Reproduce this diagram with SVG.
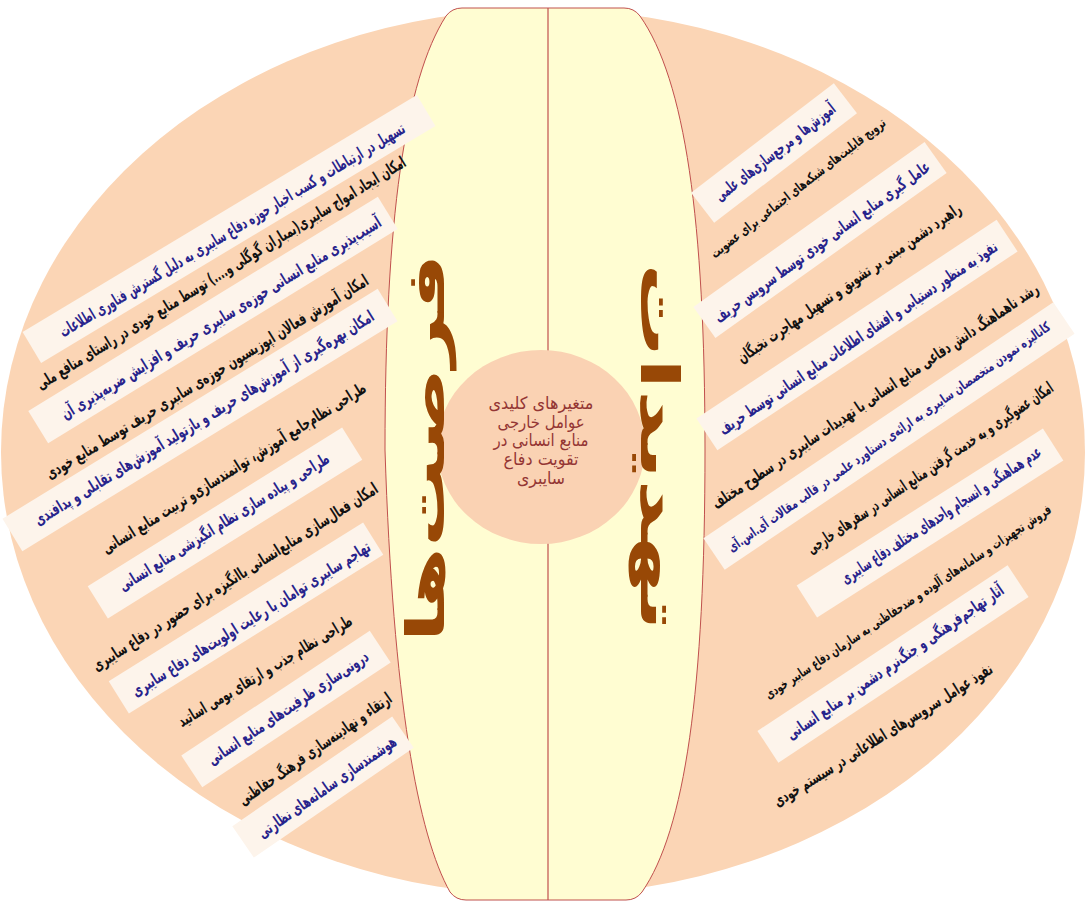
<svg xmlns="http://www.w3.org/2000/svg" width="1087" height="901" viewBox="0 0 1087 901">
<style>
.el{fill:#FBD5B5}
.band{fill:#FFFDD2;stroke:#C0504D;stroke-width:1}
.axis{stroke:#C0504D;stroke-width:1.2;fill:none}
.hub{fill:#FAD2B3}
.box{fill:#FDF4EB}
.t{font-family:"DejaVu Sans",sans-serif;font-weight:bold;font-size:16.5px;text-anchor:middle;direction:rtl}
.s{font-size:13.5px}
.b{fill:#27238C}
.k{fill:#111111}
.big{font-family:"DejaVu Sans",sans-serif;font-weight:bold;font-size:52px;fill:#984806;text-anchor:middle;direction:rtl}
.hubt{font-family:"DejaVu Sans",sans-serif;font-size:17px;fill:#943634;text-anchor:middle;direction:rtl}
</style>
<rect width="1087" height="901" fill="#FFFFFF"/>
<g id="background">
<ellipse class="el" cx="543" cy="452" rx="542" ry="443"/>
<path class="band" d="M 462,8 L 624,8 Q 634,8 640,16 C 685,80 705,220 705,450 C 705,690 685,830 642,892 Q 636,900 626,900 L 466,900 Q 456,900 450,892 C 418,835 393,700 385,450 C 385,220 405,80 446,16 Q 452,8 462,8 Z"/>
</g>
<g id="connectors">
<line class="axis" x1="548" y1="8" x2="548" y2="900"/>
</g>
<g id="hub">
<ellipse class="hub" cx="541" cy="447" rx="104" ry="97"/>
<text class="hubt" x="541" y="409" textLength="105" lengthAdjust="spacingAndGlyphs">متغیرهای کلیدی</text>
<text class="hubt" x="541" y="428" textLength="87" lengthAdjust="spacingAndGlyphs">عوامل خارجی</text>
<text class="hubt" x="541" y="446" textLength="95" lengthAdjust="spacingAndGlyphs">منابع انسانی در</text>
<text class="hubt" x="541" y="465" textLength="75" lengthAdjust="spacingAndGlyphs">تقویت دفاع</text>
<text class="hubt" x="541" y="484" textLength="48" lengthAdjust="spacingAndGlyphs">سایبری</text>
</g>
<g id="title-opportunities">
<text class="big" transform="translate(444,448) rotate(-90)" textLength="389" lengthAdjust="spacingAndGlyphs">فرصت&#x200C;ها</text>
</g>
<g id="title-threats">
<text class="big" transform="translate(641,447) rotate(90)" textLength="368" lengthAdjust="spacingAndGlyphs">تهدیدات</text>
</g>

<g id="L1"><rect class="box" x="-230" y="-18" width="460" height="36" transform="translate(229,229) rotate(-31)"/><text class="t b" transform="translate(232,230) rotate(-31)" y="5.5" textLength="400" lengthAdjust="spacingAndGlyphs">تسهیل در ارتباطات و کسب اخبار حوزه دفاع سایبری به دلیل گسترش فناوری اطلاعات</text></g>
<g id="L2"><text class="t k" transform="translate(221,273) rotate(-31.5)" y="5.5" textLength="430" lengthAdjust="spacingAndGlyphs">امکان ایجاد امواج سایبری(بمباران گوگلی و....) توسط منابع خودی در راستای منافع ملی</text></g>
<g id="L3"><rect class="box" x="-205" y="-19" width="410" height="38" transform="translate(213,320) rotate(-31.5)"/><text class="t b" transform="translate(221,318) rotate(-31.5)" y="5.5" textLength="372" lengthAdjust="spacingAndGlyphs">آسیب&#x200C;پذیری منابع انسانی حوزه&#x200C;ی سایبری حریف و افزایش ضربه&#x200C;پذیری آن</text></g>
<g id="L4"><text class="t k" transform="translate(207,377) rotate(-31.5)" y="5.5" textLength="375" lengthAdjust="spacingAndGlyphs">امکان آموزش فعالان اپوزیسیون حوزه&#x200C;ی سایبری حریف توسط منابع خودی</text></g>
<g id="L5"><rect class="box" x="-220" y="-19" width="440" height="38" transform="translate(200,420) rotate(-31.5)"/><text class="t b" transform="translate(204,418) rotate(-31.5)" y="5.5" textLength="395" lengthAdjust="spacingAndGlyphs">امکان بهره&#x200C;گیری از آموزش&#x200C;های حریف و بازتولید آموزش&#x200C;های تقابلی و پدافندی</text></g>
<g id="L6"><text class="t k" transform="translate(234,468) rotate(-32)" y="5.5" textLength="308" lengthAdjust="spacingAndGlyphs">طراحی نظام&#x200C;جامع آموزش، توانمندسازی&#x200C;و تربیت منابع انسانی</text></g>
<g id="L7"><rect class="box" x="-150" y="-19" width="300" height="38" transform="translate(225,523) rotate(-32)"/><text class="t b" transform="translate(224,522) rotate(-32)" y="5.5" textLength="245" lengthAdjust="spacingAndGlyphs">طراحی و پیاده سازی نظام انگیزشی منابع انسانی</text></g>
<g id="L8"><text class="t k" transform="translate(235,577) rotate(-32.5)" y="5.5" textLength="335" lengthAdjust="spacingAndGlyphs">امکان فعال&#x200C;سازی منابع&#x200C;انسانی باانگیزه برای حضور در دفاع سایبری</text></g>
<g id="L9"><rect class="box" x="-150" y="-19" width="300" height="38" transform="translate(246,618) rotate(-32)"/><text class="t b" transform="translate(251,619) rotate(-32)" y="5.5" textLength="278" lengthAdjust="spacingAndGlyphs">تهاجم سایبری توامان با رعایت اولویت&#x200C;های دفاع سایبری</text></g>
<g id="L10"><text class="t k" transform="translate(265,671) rotate(-31)" y="5.5" textLength="200" lengthAdjust="spacingAndGlyphs">طراحی نظام جذب و ارتقای بومی اساتید</text></g>
<g id="L11"><rect class="box" x="-113" y="-19" width="226" height="38" transform="translate(286,709) rotate(-33.5)"/><text class="t b" transform="translate(288,708) rotate(-34)" y="5.5" textLength="190" lengthAdjust="spacingAndGlyphs">درونی&#x200C;سازی ظرفیت&#x200C;های منابع انسانی</text></g>
<g id="L12"><text class="t k" transform="translate(315,749) rotate(-35)" y="5.5" textLength="183" lengthAdjust="spacingAndGlyphs">ارتقاء و نهادینه&#x200C;سازی فرهنگ حفاظتی</text></g>
<g id="L13"><rect class="box" x="-97" y="-19" width="194" height="38" transform="translate(323,787) rotate(-34.5)"/><text class="t b" transform="translate(327,787) rotate(-35)" y="5.5" textLength="165" lengthAdjust="spacingAndGlyphs">هوشمندسازی سامانه&#x200C;های نظارتی</text></g>

<g id="R1"><rect class="box" x="-90" y="-19" width="180" height="38" transform="translate(774,153) rotate(-37.5)"/><text class="t b" transform="translate(775,152) rotate(-38)" y="5.5" textLength="148" lengthAdjust="spacingAndGlyphs">آموزش&#x200C;ها و مرجع&#x200C;سازی&#x200C;های علمی</text></g>
<g id="R2"><text class="t s k" transform="translate(798,188) rotate(-38)" y="4.5" textLength="218" lengthAdjust="spacingAndGlyphs">ترویج قابلیت&#x200C;های شبکه&#x200C;های اجتماعی برای عضویت</text></g>
<g id="R3"><rect class="box" x="-142" y="-19" width="284" height="38" transform="translate(820,240) rotate(-35.5)"/><text class="t b" transform="translate(822,242) rotate(-36)" y="5.5" textLength="262" lengthAdjust="spacingAndGlyphs">عامل گیری منابع انسانی خودی توسط سرویس حریف</text></g>
<g id="R4"><text class="t k" transform="translate(849,283) rotate(-34.6)" y="5.5" textLength="268" lengthAdjust="spacingAndGlyphs">راهبرد دشمن مبنی بر تشویق و تسهیل مهاجرت نخبگان</text></g>
<g id="R5"><rect class="box" x="-180" y="-19" width="360" height="38" transform="translate(857,335) rotate(-33.5)"/><text class="t b" transform="translate(858,338) rotate(-34)" y="5.5" textLength="332" lengthAdjust="spacingAndGlyphs">نفوذ به منظور دستیابی و افشای اطلاعات منابع انسانی توسط حریف</text></g>
<g id="R6"><text class="t k" transform="translate(875,396) rotate(-34)" y="5.5" textLength="390" lengthAdjust="spacingAndGlyphs">رشد ناهماهنگ دانش دفاعی منابع انسانی با تهدیدات سایبری در سطوح مختلف</text></g>
<g id="R7"><rect class="box" x="-211" y="-19" width="422" height="38" transform="translate(889,436) rotate(-34)"/><text class="t s b" transform="translate(889,437) rotate(-35)" y="4.5" textLength="390" lengthAdjust="spacingAndGlyphs">کانالیزه نمودن متخصصان سایبری به ارائه&#x200C;ی دستاورد علمی در قالب  مقالات آی.اس.آی</text></g>
<g id="R8"><text class="t k" transform="translate(930,468) rotate(-34)" y="5.5" textLength="293" lengthAdjust="spacingAndGlyphs">امکان عضوگیری و به خدمت گرفتن منابع انسانی در سفرهای خارجی</text></g>
<g id="R9"><rect class="box" x="-146" y="-19" width="292" height="38" transform="translate(930,523) rotate(-32.5)"/><text class="t b" transform="translate(941,515) rotate(-33.3)" y="5.5" textLength="236" lengthAdjust="spacingAndGlyphs">عدم هماهنگی و انسجام واحدهای مختلف دفاع سایبری</text></g>
<g id="R10"><text class="t s k" transform="translate(908,602) rotate(-33.5)" y="4.5" textLength="340" lengthAdjust="spacingAndGlyphs">فروش تجهیزات و سامانه&#x200C;های آلوده و ضدحفاظتی به سازمان دفاع سایبر خودی</text></g>
<g id="R11"><rect class="box" x="-150" y="-19" width="300" height="38" transform="translate(893,664) rotate(-33.5)"/><text class="t b" transform="translate(895,662) rotate(-34.6)" y="5.5" textLength="260" lengthAdjust="spacingAndGlyphs">آثار تهاجم&#x200C;فرهنگی و جنگ&#x200C;نرم دشمن بر منابع انسانی</text></g>
<g id="R12"><text class="t k" transform="translate(883,735) rotate(-32)" y="5.5" textLength="255" lengthAdjust="spacingAndGlyphs">نفوذ عوامل سرویس&#x200C;های اطلاعاتی در سیستم خودی</text></g>
</svg>
